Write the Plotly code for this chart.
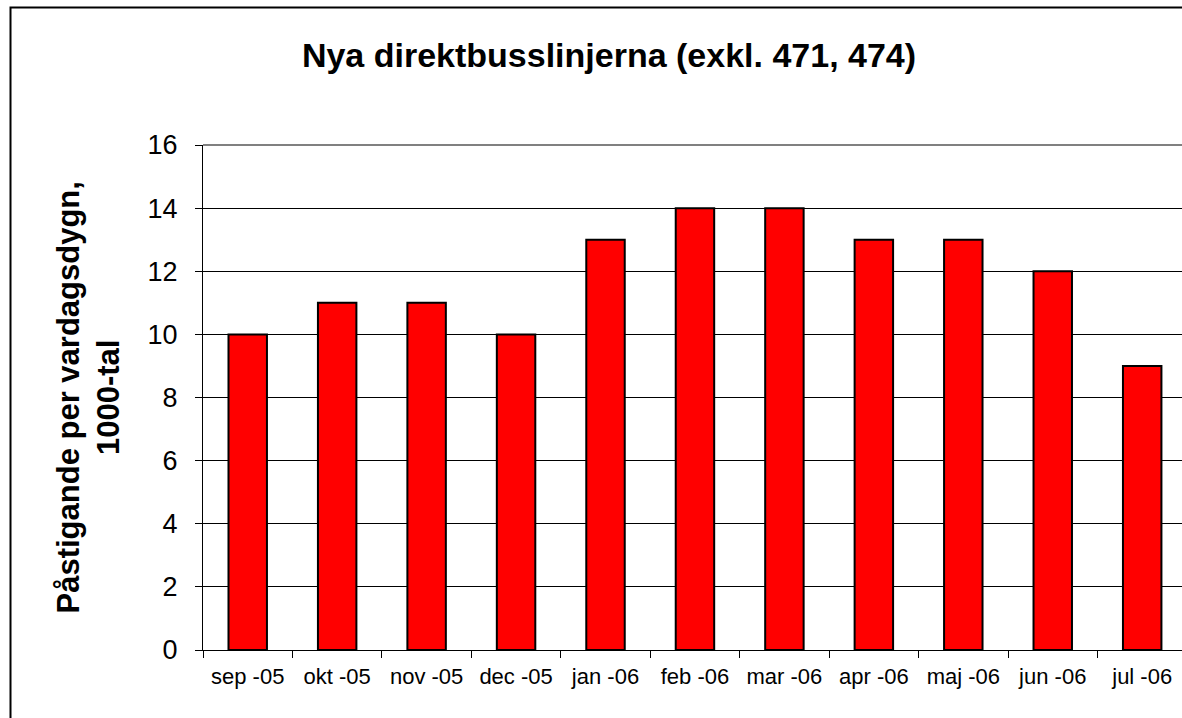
import plotly.graph_objects as go

# data
months = ['sep -05', 'okt -05', 'nov -05', 'dec -05', 'jan -06', 'feb -06',
          'mar -06', 'apr -06', 'maj -06', 'jun -06', 'jul -06']
passengers = [10, 11, 11, 10, 13, 14, 14, 13, 13, 12, 9]
y_ticks = [0, 2, 4, 6, 8, 10, 12, 14, 16]

font = 'Arial, Liberation Sans, sans-serif'

fig = go.Figure(go.Bar(
    x=months,
    y=passengers,
    width=0.43,
    marker=dict(color='#ff0000', line=dict(color='black', width=2)),
))

fig.update_layout(
    width=1182, height=718,
    margin=dict(l=203, r=0, t=145, b=68),
    paper_bgcolor='white', plot_bgcolor='white',
    showlegend=False,
    font=dict(family=font, color='black'),
    title=dict(
        text='<b>Nya direktbusslinjerna (exkl. 471, 474)</b>',
        font=dict(size=34, family=font, color='black'),
        x=609 / 1182, xanchor='center', xref='container',
        y=1 - 55 / 718, yanchor='middle', yref='container',
    ),
)

fig.update_xaxes(
    type='category',
    range=[-0.5, 10.445],
    tickson='boundaries',
    ticks='outside', ticklen=7, tickcolor='black', tickwidth=1,
    ticklabelstandoff=7,
    showline=True, linecolor='black', linewidth=1,
    showgrid=False,
    tickfont=dict(size=22, family=font, color='black'),
)

fig.update_yaxes(
    range=[0, 16],
    tickvals=y_ticks,
    ticks='outside', ticklen=7, tickcolor='black', tickwidth=1,
    ticklabelstandoff=12,
    showline=True, linecolor='black', linewidth=1,
    showgrid=True, gridcolor='black', gridwidth=1,
    zeroline=False,
    tickfont=dict(size=27, family=font, color='black'),
)

# y title as two rotated lines
fig.add_annotation(
    text='<b>Påstigande per vardagsdygn,<br>1000-tal</b>',
    xref='paper', yref='paper', x=(88 - 203) / 979, y=0.5,
    textangle=-90, showarrow=False,
    font=dict(size=31, family=font, color='black'),
    xanchor='center', yanchor='middle',
)

# gray plot area top border
fig.add_shape(type='line', xref='paper', yref='paper', x0=0, x1=1, y0=1, y1=1,
              line=dict(color='#808080', width=2))

# outer chart border (left and top visible)
fig.add_shape(type='rect', xref='paper', yref='paper',
              x0=(10.5 - 203) / 979, x1=1.2,
              y0=-0.3, y1=(650 - 7.5) / 505,
              line=dict(color='black', width=2), layer='above')

fig.write_html('out.html',
               config={'displayModeBar': False},
               post_script="document.body.style.margin='0';"
                           "document.body.style.overflow='hidden';")
